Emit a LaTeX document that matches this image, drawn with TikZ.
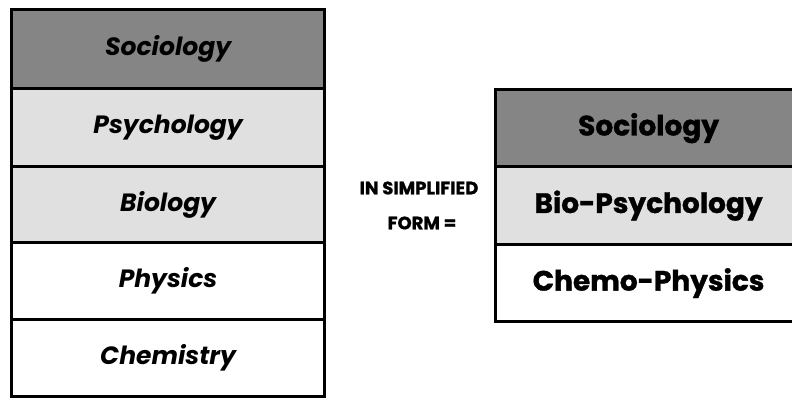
\documentclass[tikz,border=0pt]{standalone}
\usepackage{fontspec}
\setmainfont{Poppins}[BoldFeatures={FakeBold=1.2}]
\begin{document}
\begin{tikzpicture}[x=1pt,y=-1pt,
  rowbox/.style={draw=black,line width=3.2pt,inner sep=0pt,anchor=north west,font=\fontsize{25}{27}\selectfont\bfseries\itshape},
  rrow/.style={draw=black,line width=3.2pt,inner sep=0pt,anchor=north west,font=\fontsize{28}{30}\selectfont\bfseries},
  darkfill/.style={fill=black!48},
  lightfill/.style={fill=black!12},
  midtext/.style={font=\fontsize{18}{20}\selectfont\bfseries}]
\useasboundingbox (0,0) rectangle (792,397);
% left stack
\node[rowbox,darkfill,minimum width=313pt,minimum height=79pt] (ls) at (10,8) {Sociology};
\node[rowbox,lightfill,minimum width=313pt,minimum height=78pt] (lp) at (10,87) {Psychology};
\node[rowbox,lightfill,minimum width=313pt,minimum height=76pt] (lb) at (10,165) {Biology};
\node[rowbox,fill=white,minimum width=313pt,minimum height=77pt] (lph) at (10,241) {Physics};
\node[rowbox,fill=white,minimum width=313pt,minimum height=77pt] (lc) at (10,318) {Chemistry};
% middle text
\node[midtext] (m1) at (419,188) {IN SIMPLIFIED};
\node[midtext] (m2) at (422,223) {FORM =};
% right stack
\node[rrow,darkfill,minimum width=306pt,minimum height=77pt] (rs) at (494,88) {Sociology};
\node[rrow,lightfill,minimum width=306pt,minimum height=78pt] (rb) at (494,165) {Bio-Psychology};
\node[rrow,fill=white,minimum width=306pt,minimum height=77pt] (rc) at (494,243) {Chemo-Physics};
\end{tikzpicture}
\end{document}
